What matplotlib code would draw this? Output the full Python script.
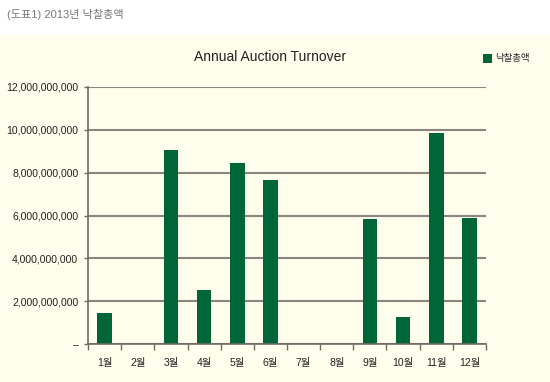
import matplotlib
matplotlib.use("Agg")
import matplotlib.pyplot as plt
from matplotlib.patches import Rectangle
import numpy as np

plt.rcParams['font.family'] = ['Liberation Sans', 'Noto Sans CJK KR', 'DejaVu Sans']

months = ['1월', '2월', '3월', '4월', '5월', '6월', '7월', '8월', '9월', '10월', '11월', '12월']
values = [1.45e9, 0, 9.05e9, 2.5e9, 8.47e9, 7.68e9, 0, 0, 5.82e9, 1.24e9, 9.84e9, 5.9e9]
yticks = [0, 2e9, 4e9, 6e9, 8e9, 10e9, 12e9]
ytick_labels = ['–', '2,000,000,000', '4,000,000,000', '6,000,000,000',
                '8,000,000,000', '10,000,000,000', '12,000,000,000']
series_name = '낙찰총액'
chart_title = 'Annual Auction Turnover'
header = '(도표1) 2013년 낙찰총액'

W, H = 550, 382
fig = plt.figure(figsize=(W / 100, H / 100), dpi=100)
fig.patch.set_facecolor('white')
bg = '#FFFDEB'
fig.patches.append(Rectangle((0, 0), 1, (H - 35) / H, transform=fig.transFigure,
                             facecolor=bg, edgecolor='none', zorder=-10))

ax = fig.add_axes([88 / W, (H - 344) / H, (486 - 88) / W, (344 - 87) / H])
ax.set_facecolor('none')
ax.set_zorder(5)

x = np.arange(len(months))
ax.bar(x, values, width=0.44, color='#006537', zorder=3)

ax.set_xlim(-0.5, len(months) - 0.5)
ax.set_ylim(0, 12e9)

ax.set_yticks(yticks)
ax.set_yticklabels(ytick_labels, fontsize=7.5, color='#222222')
ax.yaxis.grid(True, color='#8a8580', linewidth=1.5, zorder=1)
ax.set_axisbelow(True)
ax.tick_params(axis='y', length=3, width=1, color='#6e6a66', pad=4)

ax.set_xticks(np.arange(-0.5, len(months), 1.0))
ax.set_xticklabels([])
ax.set_xticks(x, minor=True)
ax.set_xticklabels(months, minor=True, fontsize=7.5, color='#222222')
ax.tick_params(axis='x', which='major', direction='out', length=4, width=1, color='#6e6a66')
ax.tick_params(axis='x', which='minor', length=0, pad=10)

for s in ['top', 'right']:
    ax.spines[s].set_visible(False)
for s in ['left', 'bottom']:
    ax.spines[s].set_color('#6e6a66')
    ax.spines[s].set_linewidth(1.2)
    ax.spines[s].set_zorder(4)

fig.text(270 / W, 1 - 57 / H, chart_title, ha='center', va='center', fontsize=10, color='#222222')
fig.text(7 / W, 1 - 15 / H, header, ha='left', va='center', fontsize=8, color='#777777')

fig.patches.append(Rectangle((483 / W, 1 - 63 / H), 9 / W, 9 / H, transform=fig.transFigure,
                             facecolor='#006537', edgecolor='none', zorder=3))
fig.text(495 / W, 1 - 58.5 / H, series_name, ha='left', va='center', fontsize=6.8, color='#222222')

fig.savefig('out.png', dpi=100, facecolor=fig.get_facecolor())
